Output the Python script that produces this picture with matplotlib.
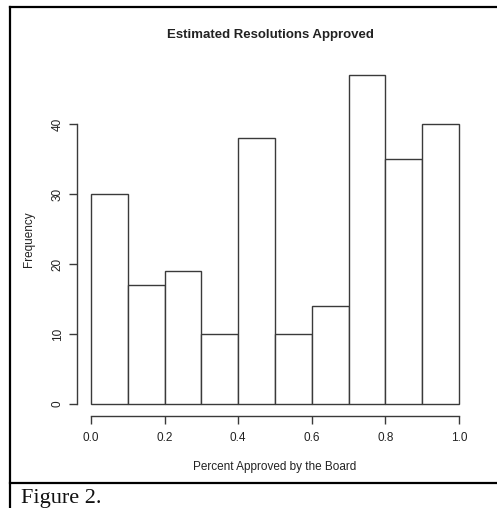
import matplotlib
matplotlib.use("Agg")
import matplotlib.pyplot as plt
from matplotlib.lines import Line2D

bin_edges = [0.0, 0.1, 0.2, 0.3, 0.4, 0.5, 0.6, 0.7, 0.8, 0.9, 1.0]
counts = [30, 17, 19, 10, 38, 10, 14, 47, 35, 40]
x_ticks = [0.0, 0.2, 0.4, 0.6, 0.8, 1.0]
y_ticks = [0, 10, 20, 30, 40]

plt.rcParams["font.family"] = ["Liberation Sans", "DejaVu Sans"]

W, H = 497, 508
fig = plt.figure(figsize=(W / 100, H / 100), dpi=100)
fig.patch.set_facecolor("white")

def px(x0, y0, w, h):
    return [x0 / W, (H - y0 - h) / H, w / W, h / H]

ax = fig.add_axes(px(91, 75, 368, 329))
ax.set_xlim(0, 1)
ax.set_ylim(0, 47)
ax.patch.set_alpha(0)

widths = [bin_edges[i + 1] - bin_edges[i] for i in range(len(counts))]
ax.bar(bin_edges[:-1], counts, width=widths, align="edge",
       facecolor="white", edgecolor="#3a3a3a", linewidth=1.0, clip_on=False)

for s in ["top", "right"]:
    ax.spines[s].set_visible(False)
ax.spines["left"].set_position(("outward", 14 * 0.72))
ax.spines["bottom"].set_position(("outward", 12 * 0.72))
ax.spines["left"].set_bounds(0, 40)
ax.spines["bottom"].set_bounds(0, 1)
for s in ["left", "bottom"]:
    ax.spines[s].set_color("#3a3a3a")
    ax.spines[s].set_linewidth(1.0)

ax.set_xticks(x_ticks)
ax.set_xticklabels([f"{v:.1f}" for v in x_ticks])
ax.set_yticks(y_ticks)
ax.set_yticklabels([str(v) for v in y_ticks], rotation=90, va="center")
ax.tick_params(axis="both", length=5.5, width=1.0, color="#3a3a3a",
               labelsize=8.5, labelcolor="#222222")
ax.tick_params(axis="x", pad=6)
ax.tick_params(axis="y", pad=4)

ax.set_xlabel("Percent Approved by the Board", fontsize=8.5, color="#222222", labelpad=12)
ax.set_ylabel("Frequency", fontsize=8.5, color="#222222", labelpad=12)
fig.text(270 / W, 1 - 35 / H, "Estimated Resolutions Approved", ha="center",
         va="center", fontsize=9.5, fontweight="bold", color="#222222")

# frame lines
lw = 1.6
fig.add_artist(Line2D([10 / W, 1.0], [1 - 7 / H, 1 - 7 / H], color="black", lw=lw))
fig.add_artist(Line2D([10 / W, 1.0], [1 - 483 / H, 1 - 483 / H], color="black", lw=lw))
fig.add_artist(Line2D([10 / W, 10 / W], [0, 1 - 7 / H], color="black", lw=lw))

fig.text(21 / W, 1 - 499 / H, "Figure 2.", ha="left", va="center",
         fontsize=16, family="Liberation Serif", color="#111111")

fig.savefig("out.png", dpi=100)
